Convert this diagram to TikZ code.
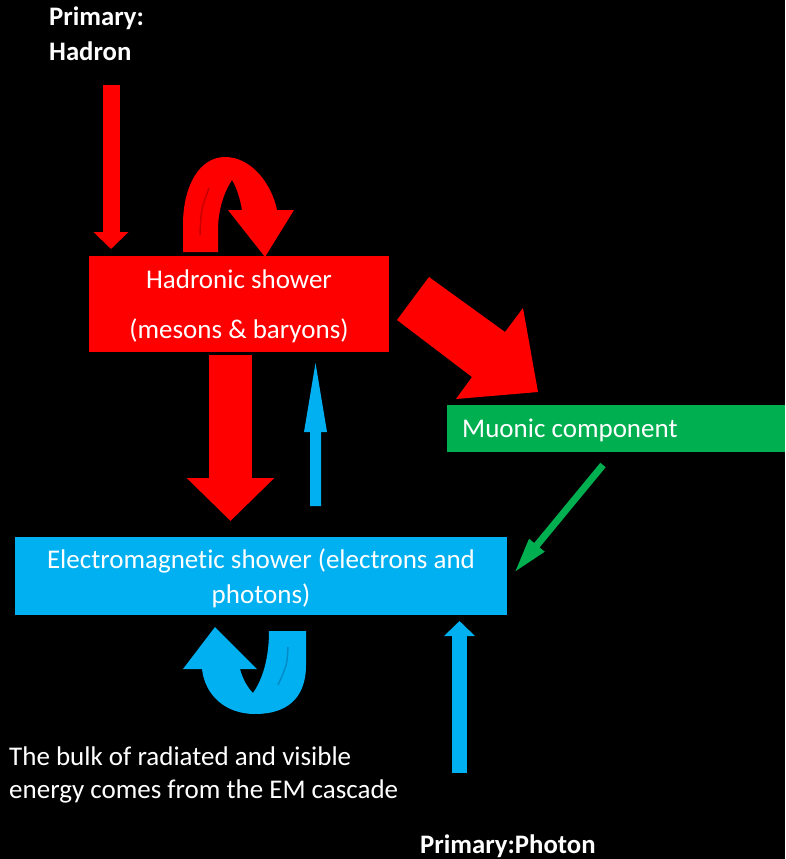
\documentclass[tikz,border=0pt]{standalone}
\usepackage{fontspec}
\setmainfont{Carlito}[Ligatures=NoCommon]
\usetikzlibrary{arrows.meta}
\definecolor{hred}{RGB}{255,0,0}
\definecolor{hdark}{RGB}{200,0,0}
\definecolor{emblue}{RGB}{0,176,240}
\definecolor{emdark}{RGB}{0,140,200}
\definecolor{mugreen}{RGB}{0,176,80}
\tikzset{
  lbl/.style={inner sep=0pt, text=white, font=\fontsize{27}{32}\selectfont},
  blbl/.style={inner sep=0pt, text=white, font=\fontsize{26.7}{32}\selectfont\bfseries},
  box/.style={inner sep=0pt, anchor=north west},
}
\begin{document}
\begin{tikzpicture}[x=1pt,y=-1pt]
\fill[black] (0,0) rectangle (785,859);
\useasboundingbox (0,0) rectangle (785,859);

% boxes
\node[box, fill=hred, minimum width=300pt, minimum height=96pt] (had) at (89,256) {};
\node[box, fill=mugreen, minimum width=338pt, minimum height=47pt] (muon) at (447,405) {};
\node[box, fill=emblue, minimum width=492pt, minimum height=78pt] (em) at (15,537) {};

% box texts
\node[lbl, anchor=base] (hadt1) at (239,288) {Hadronic shower};
\node[lbl, anchor=base] (hadt2) at (239,338) {(mesons \& baryons)};
\node[lbl, anchor=base west] (muont) at (462,437) {Muonic component};
\node[lbl, anchor=base] (emt1) at (261,568) {Electromagnetic shower (electrons and};
\node[lbl, anchor=base] (emt2) at (261,603) {photons)};

% free texts
\node[blbl, anchor=base west] (ph1) at (49,26) {Primary:};
\node[blbl, anchor=base west] (ph2) at (49,60) {Hadron};
\node[lbl, anchor=base west] (bulk1) at (9,765) {The bulk of radiated and visible};
\node[lbl, anchor=base west] (bulk2) at (9,798) {energy comes from the EM cascade};
\node[blbl, anchor=base west] (pp) at (420,853) {Primary:Photon};

% straight block arrows
\coordinate (hadin) at (111,85);
\coordinate (hadtip) at (111,249);
\draw[hred, line width=17pt, -{Triangle[width=34pt,length=17pt]}] (hadin) -- (hadtip);

\coordinate (downs) at (230.5,355);
\coordinate (downt) at (230.5,521);
\draw[hred, line width=43pt, -{Triangle[width=85pt,length=43pt]}] (downs) -- (downt);

\coordinate (ups) at (315.5,506);
\coordinate (upt) at (315.5,363);
\fill[emblue] (ups) ++(-5.5,0) -- ++(0,-74) -- ++(-6,0) -- (upt) -- ++(11.5,69) -- ++(-6,0) -- ++(0,74) -- cycle;

\coordinate (phs) at (459.5,773);
\coordinate (pht) at (459.5,621);
\draw[emblue, line width=15pt, -{Triangle[width=30pt,length=15pt]}] (phs) -- (pht);

\coordinate (gs) at (603,465);
\coordinate (gt) at (514,573);
\draw[mugreen, line width=7pt, -{Triangle[width=18pt,length=36pt]}] (gs) -- (gt);

% big diagonal red arrow
\fill[hred] (397,320) -- (429,277) -- (505,332) -- (523,308) -- (538,392) -- (456,399) -- (472,377) -- cycle;

% curved red arrow
\fill[hred] (183,252) -- (183,225) .. controls (183,185) and (200,157) .. (225,157)
  .. controls (252,157) and (272,185) .. (277,210) -- (294,210) -- (265,257) -- (228,210) -- (242,210)
  .. controls (240,198) and (236,186) .. (232,180) .. controls (224,192) and (218,210) .. (218,230)
  -- (218,252) -- cycle;
\draw[hdark, line width=1.5pt] (200,235) .. controls (201,210) .. (209,188);

% curved blue arrow
\fill[emblue] (306,631) -- (306,665) .. controls (306,700) and (285,714) .. (255,714)
  .. controls (225,714) and (205,695) .. (202,669) -- (183,669) -- (215,627) -- (257,669) -- (240,669)
  .. controls (243,680) and (248,688) .. (253,693) .. controls (262,680) and (269,660) .. (269,631) -- cycle;
\draw[emdark, line width=1.5pt] (288,647) .. controls (287,665) .. (278,685);
\end{tikzpicture}
\end{document}
